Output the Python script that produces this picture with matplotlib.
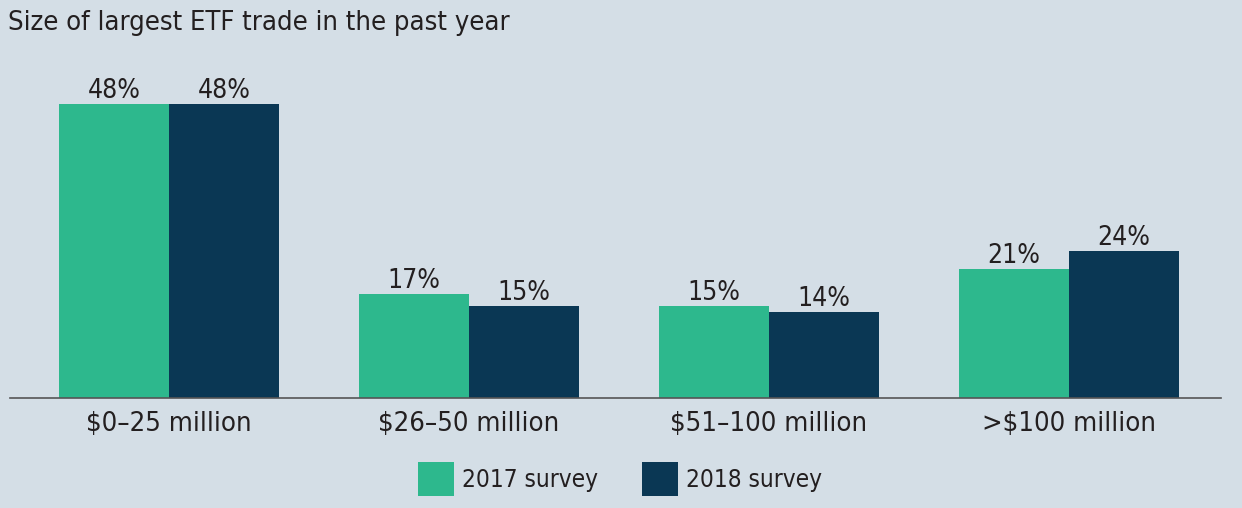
import matplotlib
matplotlib.use('Agg')
import matplotlib.pyplot as plt
import numpy as np

# data
categories = ['$0\u201325 million', '$26\u201350 million', '$51\u2013100 million', '>$100 million']
survey_2017 = [48, 17, 15, 21]
survey_2018 = [48, 15, 14, 24]
series_names = ['2017 survey', '2018 survey']

# style
bg = '#d4dee6'
green = '#2db88d'
navy = '#0a3754'
txt = '#231f20'
plt.rcParams['font.family'] = ['DejaVu Sans']
plt.rcParams['font.stretch'] = 'condensed'

fig = plt.figure(figsize=(12.42, 5.08), dpi=100, facecolor=bg)
ax = fig.add_axes([10 / 1242, 110 / 508, 1211 / 1242, 337 / 508])
ax.set_facecolor(bg)

x = np.arange(len(categories))
w = 0.367
b1 = ax.bar(x - w / 2, survey_2017, w, color=green, label=series_names[0])
b2 = ax.bar(x + w / 2, survey_2018, w, color=navy, label=series_names[1])

# value labels
for bars in (b1, b2):
    for rect in bars:
        ax.annotate(f'{rect.get_height():.0f}%',
                    (rect.get_x() + rect.get_width() / 2, rect.get_height()),
                    xytext=(0, 0), textcoords='offset points',
                    ha='center', va='bottom', fontsize=19, color=txt,
                    fontstretch='condensed')

ax.set_xlim(-0.53, 3.507)
ax.set_ylim(0, 55)
ax.set_xticks(x)
ax.set_xticklabels(categories, fontsize=19.7, color=txt, fontstretch='condensed')
ax.tick_params(axis='x', length=0, pad=9.5)
ax.set_yticks([])
for s in ['top', 'right', 'left']:
    ax.spines[s].set_visible(False)
ax.spines['bottom'].set_color('#555555')
ax.spines['bottom'].set_linewidth(1.2)

# title
fig.text(8 / 1242, 1 - 23 / 508, 'Size of largest ETF trade in the past year',
         fontsize=19.6, color=txt, ha='left', va='center', fontstretch='condensed')

# legend
fig.legend(handles=[b1, b2], labels=series_names, loc='center',
           bbox_to_anchor=(620 / 1242, 1 - 479 / 508), ncol=2, frameon=False,
           prop={'size': 17.5, 'stretch': 'condensed'}, handlelength=1.48,
           handleheight=1.8, handletextpad=0.33, columnspacing=1.8,
           labelcolor=txt)

plt.savefig('out.png', dpi=100, facecolor=bg)
